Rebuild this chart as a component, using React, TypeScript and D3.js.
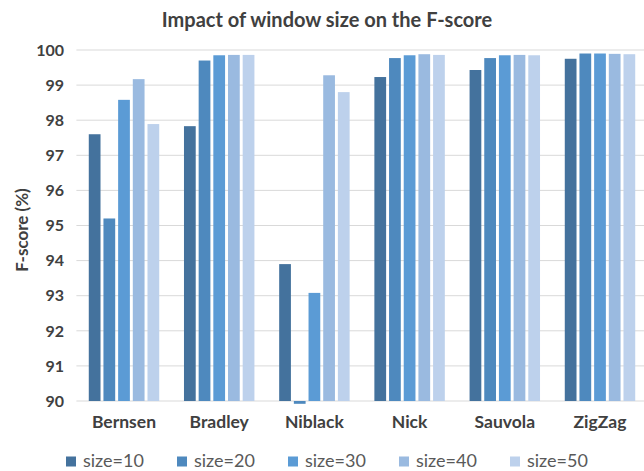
import React from "react";
import * as d3 from "d3";

const width = 644;
const height = 471;
const marginTop = 50;
const marginBottom = 70;
const plotLeft = 76.4;
const plotRight = 647.6;

const categories = ["Bernsen", "Bradley", "Niblack", "Nick", "Sauvola", "ZigZag"];
const seriesNames = ["size=10", "size=20", "size=30", "size=40", "size=50"];
const colors = ["#44729D", "#4E89BE", "#5B9BD5", "#9ABAE0", "#BDD1EC"];

// values per category, ordered size=10..50
const size10 = [97.6, 97.83, 93.9, 99.23, 99.43, 99.75];
const size20 = [95.2, 99.7, 89.92, 99.77, 99.77, 99.9];
const size30 = [98.58, 99.85, 93.08, 99.85, 99.85, 99.9];
const size40 = [99.17, 99.86, 99.28, 99.88, 99.86, 99.89];
const size50 = [97.89, 99.86, 98.8, 99.86, 99.85, 99.88];
const series = [size10, size20, size30, size40, size50];

const yTicks = [90, 91, 92, 93, 94, 95, 96, 97, 98, 99, 100];

const font = "Lato, 'Open Sans', sans-serif";

export default function App() {
  const x0 = d3.scaleBand().domain(categories).range([plotLeft, plotRight]).paddingInner(0.26).paddingOuter(0.13);
  const x1 = d3.scaleBand().domain(seriesNames).range([0, x0.bandwidth()]).paddingInner(0.2);
  const y = d3.scaleLinear().domain([90, 100]).range([height - marginBottom, marginTop]);

  return (
    <svg width={width} height={height} style={{ position: "absolute", left: 0, top: 0 }}>
      <rect width={width} height={height} fill="#fff" />
      <text x={327} y={27} textAnchor="middle" fontFamily={font} fontWeight="bold" fontSize={20} fill="#404040">
        Impact of window size on the F-score
      </text>
      {yTicks.map(t => (
        <g key={t}>
          <line x1={plotLeft} x2={width} y1={y(t)} y2={y(t)} stroke="#D9D9D9" strokeWidth={1} />
          <text x={64} y={y(t)} dy="0.36em" textAnchor="end" fontFamily={font} fontWeight="bold" fontSize={16} fill="#404040">
            {t}
          </text>
        </g>
      ))}
      {categories.map((c, ci) => (
        <g key={c} transform={`translate(${x0(c)},0)`}>
          {series.map((s, si) => {
            const v = s[ci];
            const top = Math.min(y(v), y(90));
            const h = Math.abs(y(v) - y(90));
            return <rect key={si} x={x1(seriesNames[si])} y={top} width={x1.bandwidth()} height={Math.max(h, 0.5)} fill={colors[si]} />;
          })}
          <text x={x0.bandwidth() / 2} y={428} textAnchor="middle" fontFamily={font} fontWeight="bold" fontSize={17.5} fill="#404040">
            {c}
          </text>
        </g>
      ))}
      <text
        transform={`translate(28,230) rotate(-90)`}
        textAnchor="middle"
        fontFamily={font}
        fontWeight="bold"
        fontSize={17}
        fill="#404040"
      >
        F-score (%)
      </text>
      {seriesNames.map((n, i) => {
        const lx = 66 + i * 111;
        return (
          <g key={n}>
            <rect x={lx} y={456.5} width={10} height={10} fill={colors[i]} />
            <text x={lx + 17} y={461} dy="0.36em" fontFamily={font} fontSize={18} fill="#595959">
              {n}
            </text>
          </g>
        );
      })}
    </svg>
  );
}
